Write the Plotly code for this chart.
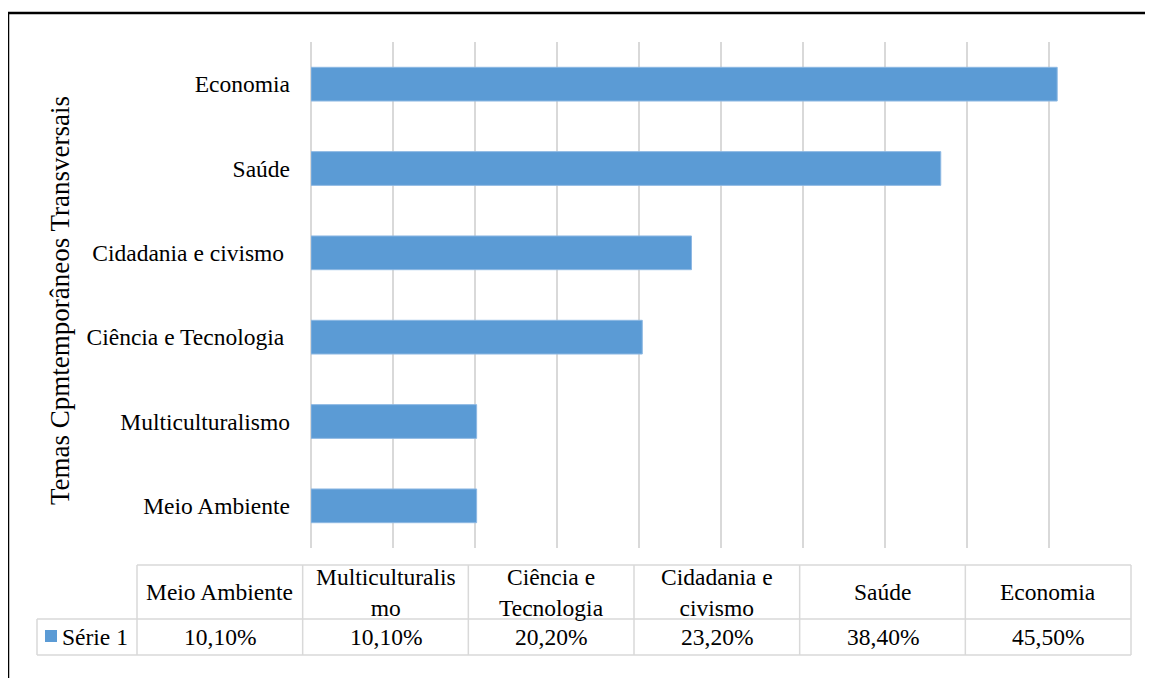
import plotly.graph_objects as go

categories = ["Meio Ambiente", "Multiculturalismo", "Ciência e Tecnologia\u00a0",
              "Cidadania e civismo\u00a0", "Saúde", "Economia"]
values = [10.1, 10.1, 20.2, 23.2, 38.4, 45.5]
table_headers = ["Meio Ambiente", "Multiculturalis<br>mo", "Ciência e<br>Tecnologia",
                 "Cidadania e<br>civismo", "Saúde", "Economia"]
series_name = "Série 1"
axis_title = "Temas Cpmtemporâneos Transversais"

OFF = 8  # page body margin
W, H = 1153 - OFF, 678 - OFF
FONT = "Liberation Serif, Times New Roman, serif"
BAR = "#5B9BD5"
GRID = "#D9D9D9"

def px(x):
    return (x - OFF) / W

def py(y):
    return 1 - (y - OFF) / H

fig = go.Figure(go.Bar(
    y=categories, x=values, orientation="h",
    marker=dict(color=BAR, line=dict(color="#8DB8E3", width=1)),
    width=0.4, name=series_name, showlegend=False,
))

fig.update_layout(
    width=W, height=H,
    margin=dict(l=0, r=0, t=0, b=0),
    paper_bgcolor="white", plot_bgcolor="white",
    font=dict(family=FONT, color="#000000", size=23),
    xaxis=dict(domain=[px(311), px(1131)], range=[0, 50], dtick=5,
               showgrid=True, gridcolor=GRID, gridwidth=1.5,
               zeroline=True, zerolinecolor=GRID, zerolinewidth=1.5,
               showticklabels=False, showline=False, fixedrange=True),
    yaxis=dict(domain=[py(548), py(42)], showgrid=False, showline=False,
               ticklabelstandoff=20, tickfont=dict(size=23.5, family=FONT),
               fixedrange=True),
    bargap=0.6,
)

shapes = []
# outer frame
shapes.append(dict(type="rect", xref="paper", yref="paper",
                   x0=px(8), x1=1.05, y0=-0.05, y1=py(13),
                   line=dict(color="black", width=2.5)))

# data table
col_edges = [137 + i * (1131 - 137) / len(categories) for i in range(len(categories) + 1)]
top, mid, bot = 565, 619, 655
left_hdr = 37
line_style = dict(color=GRID, width=1.5)
shapes.append(dict(type="line", xref="paper", yref="paper", x0=px(col_edges[0]), x1=px(col_edges[-1]),
                   y0=py(top), y1=py(top), line=line_style))
shapes.append(dict(type="line", xref="paper", yref="paper", x0=px(left_hdr), x1=px(col_edges[-1]),
                   y0=py(mid), y1=py(mid), line=line_style))
shapes.append(dict(type="line", xref="paper", yref="paper", x0=px(left_hdr), x1=px(col_edges[-1]),
                   y0=py(bot), y1=py(bot), line=line_style))
for xe in col_edges:
    shapes.append(dict(type="line", xref="paper", yref="paper", x0=px(xe), x1=px(xe),
                       y0=py(top), y1=py(bot), line=line_style))
shapes.append(dict(type="line", xref="paper", yref="paper", x0=px(left_hdr), x1=px(left_hdr),
                   y0=py(mid), y1=py(bot), line=line_style))
# legend key
shapes.append(dict(type="rect", xref="paper", yref="paper", x0=px(45), x1=px(57),
                   y0=py(642), y1=py(630), fillcolor=BAR, line=dict(width=0)))

TF = 23.5
annotations = []
for i, (hdr, v) in enumerate(zip(table_headers, values)):
    cx = (col_edges[i] + col_edges[i + 1]) / 2
    annotations.append(dict(xref="paper", yref="paper", x=px(cx), y=py((top + mid) / 2),
                            text=hdr, showarrow=False, xanchor="center", yanchor="middle",
                            font=dict(size=TF, family=FONT)))
    label = f"{v:.2f}".replace(".", ",") + "%"
    annotations.append(dict(xref="paper", yref="paper", x=px(cx), y=py((mid + bot) / 2),
                            text=label, showarrow=False, xanchor="center", yanchor="middle",
                            font=dict(size=TF, family=FONT)))
annotations.append(dict(xref="paper", yref="paper", x=px(60), y=py(637),
                        text=series_name, showarrow=False, xanchor="left", yanchor="middle",
                        font=dict(size=TF, family=FONT)))
annotations.append(dict(xref="paper", yref="paper", x=px(60), y=py(301),
                        text=axis_title, showarrow=False, textangle=-90,
                        xanchor="center", yanchor="middle",
                        font=dict(size=27, family=FONT)))

fig.update_layout(shapes=shapes, annotations=annotations)
fig.write_html("out.html")
